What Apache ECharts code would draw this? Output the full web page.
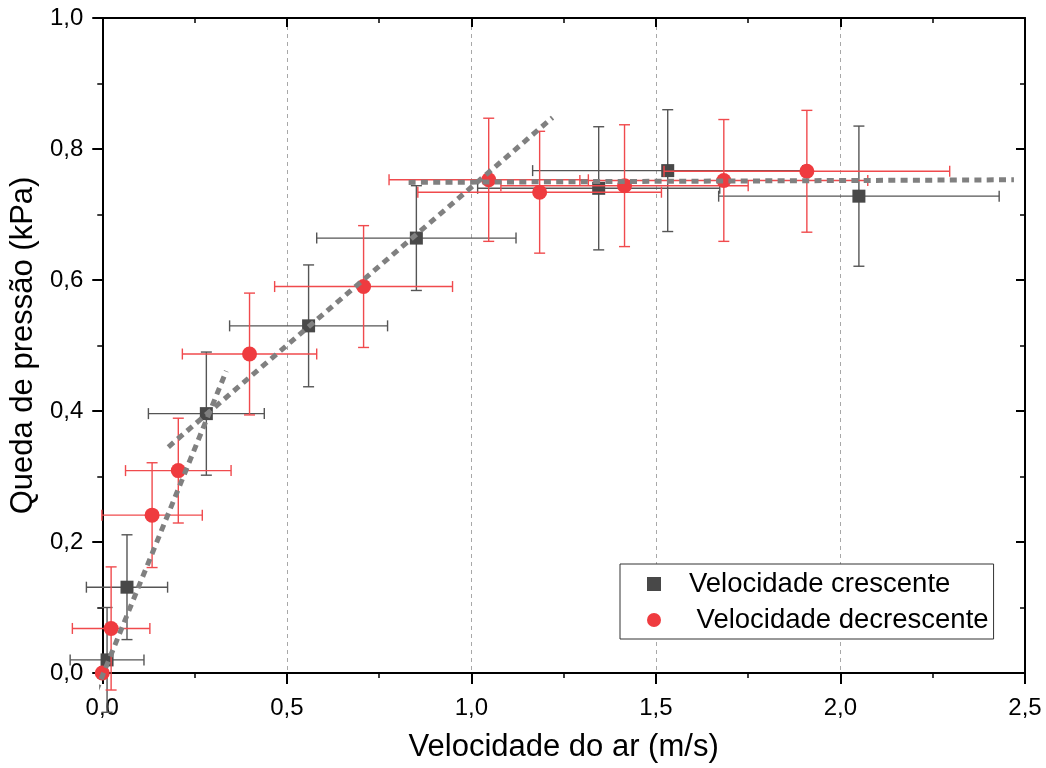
<!DOCTYPE html>
<html lang="pt-BR">
<head>
    <meta charset="utf-8">
    <title>Queda de pressão x velocidade do ar</title>
    <style>
        html, body { margin: 0; padding: 0; background: #fff; }
        #main { width: 1046px; height: 768px; }
    </style>
</head>
<body>
    <div id="main"></div>
    <script src="https://cdn.jsdelivr.net/npm/echarts@6/dist/echarts.min.js"></script>
    <script>
        // velocidade crescente (quadrados)
        var cresX = [0.013, 0.067, 0.282, 0.559, 0.851, 1.345, 1.532, 2.05];
        var cresY = [0.02, 0.131, 0.396, 0.53, 0.664, 0.74, 0.767, 0.728];
        var cresErrX = [0.1, 0.11, 0.157, 0.214, 0.27, 0.328, 0.366, 0.38];
        var cresErrY = [0.08, 0.08, 0.094, 0.093, 0.08, 0.094, 0.093, 0.107];

        // velocidade decrescente (circulos)
        var decrX = [0, 0.024, 0.135, 0.206, 0.399, 0.708, 1.047, 1.185, 1.415, 1.684, 1.909];
        var decrY = [0, 0.068, 0.241, 0.309, 0.487, 0.59, 0.753, 0.734, 0.744, 0.752, 0.766];
        var decrErrX = [0, 0.105, 0.136, 0.143, 0.182, 0.241, 0.27, 0.33, 0.335, 0.39, 0.387];
        var decrErrY = [0, 0.094, 0.08, 0.08, 0.093, 0.093, 0.094, 0.093, 0.093, 0.093, 0.093];

        // retas de ajuste (pontos extremos)
        var fitA = [[-0.016, -0.027], [0.336, 0.461]];
        var fitB = [[0.179, 0.345], [1.22, 0.848]];
        var fitC = [[0.83, 0.749], [2.47, 0.753]];

        var seriesNames = ['Velocidade crescente', 'Velocidade decrescente'];
        var legendPrefix = ['   ', '    '];

        var FONT = 'Liberation Sans, Arial, sans-serif';
        var BLACK = '#484848', RED = '#ef3b3f';

        function comma(v) { return v.toFixed(1).replace('.', ','); }

        function pack(xs, ys, ex, ey) {
            var out = [];
            for (var i = 0; i < xs.length; i++) out.push([xs[i], ys[i], ex[i], ey[i]]);
            return out;
        }

        function errRender(color) {
            return function (params, api) {
                var x = api.value(0), y = api.value(1), ex = api.value(2), ey = api.value(3);
                var cap = 5.5;
                var style = { stroke: color, lineWidth: 1.4 };
                var kids = [];
                if (ey > 0) {
                    var top = api.coord([x, y + ey]), bot = api.coord([x, y - ey]);
                    kids.push({ type: 'line', shape: { x1: top[0], y1: top[1], x2: bot[0], y2: bot[1] }, style: style });
                    kids.push({ type: 'line', shape: { x1: top[0] - cap, y1: top[1], x2: top[0] + cap, y2: top[1] }, style: style });
                    kids.push({ type: 'line', shape: { x1: bot[0] - cap, y1: bot[1], x2: bot[0] + cap, y2: bot[1] }, style: style });
                }
                if (ex > 0) {
                    var l = api.coord([x - ex, y]), r = api.coord([x + ex, y]);
                    kids.push({ type: 'line', shape: { x1: l[0], y1: l[1], x2: r[0], y2: r[1] }, style: style });
                    kids.push({ type: 'line', shape: { x1: l[0], y1: l[1] - cap, x2: l[0], y2: l[1] + cap }, style: style });
                    kids.push({ type: 'line', shape: { x1: r[0], y1: r[1] - cap, x2: r[0], y2: r[1] + cap }, style: style });
                }
                return { type: 'group', children: kids };
            };
        }

        function fitLine(pts) {
            return {
                type: 'line', data: pts, symbol: 'none', clip: false, silent: true, z: 10,
                lineStyle: { color: '#808080', width: 5, type: [7, 5.3], cap: 'butt' }
            };
        }

        var chart = echarts.init(document.getElementById('main'), null, { renderer: 'canvas' });

        var axisLine = { show: true, onZero: false, lineStyle: { color: '#000', width: 2 } };

        var option = {
            animation: false,
            backgroundColor: '#fff',
            textStyle: { fontFamily: FONT },
            grid: { left: 101, right: 21, top: 18, bottom: 93 },
            legend: {
                data: seriesNames,
                orient: 'vertical',
                left: 620, top: 564,
                padding: [6, 5, 5, 27],
                itemGap: 8,
                itemWidth: 14, itemHeight: 14,
                borderColor: '#333', borderWidth: 1,
                backgroundColor: '#fff',
                textStyle: { fontSize: 27.5, color: '#000', fontFamily: FONT, lineHeight: 27 },
                formatter: function (name) { return legendPrefix[seriesNames.indexOf(name)] + name; }
            },
            xAxis: [{
                type: 'value', position: 'bottom', min: 0, max: 2.5, interval: 0.5,
                axisLine: axisLine,
                axisTick: { show: true, inside: false, length: 11, lineStyle: { color: '#000', width: 2 } },
                minorTick: { show: true, splitNumber: 2, length: 5, lineStyle: { color: '#000', width: 1.5 } },
                splitLine: { show: true, lineStyle: { color: '#a8a8a8', width: 1, type: [4, 4] } },
                axisLabel: { fontSize: 24, color: '#000', margin: 23, formatter: comma },
                name: 'Velocidade do ar (m/s)', nameLocation: 'middle', nameGap: 59,
                nameTextStyle: { fontSize: 31, color: '#000' }
            }, {
                type: 'value', position: 'top', min: 0, max: 2.5, interval: 0.5,
                axisLine: axisLine,
                axisTick: { show: true, inside: true, length: 9, lineStyle: { color: '#000', width: 2 } },
                minorTick: { show: true, splitNumber: 2, length: 5, lineStyle: { color: '#000', width: 1.5 } },
                splitLine: { show: false }, axisLabel: { show: false }
            }],
            yAxis: [{
                type: 'value', position: 'left', min: 0, max: 1, interval: 0.2,
                axisLine: axisLine,
                axisTick: { show: true, inside: false, length: 10, lineStyle: { color: '#000', width: 2 } },
                minorTick: { show: true, splitNumber: 2, length: 5, lineStyle: { color: '#000', width: 1.5 } },
                splitLine: { show: false },
                axisLabel: { fontSize: 24, color: '#000', margin: 19, formatter: comma },
                name: 'Queda de pressão (kPa)', nameLocation: 'middle', nameGap: 56, nameRotate: 90,
                nameTextStyle: { fontSize: 31, color: '#000' }
            }, {
                type: 'value', position: 'right', min: 0, max: 1, interval: 0.2,
                axisLine: axisLine,
                axisTick: { show: true, inside: true, length: 9, lineStyle: { color: '#000', width: 2 } },
                minorTick: { show: true, splitNumber: 2, length: 5, lineStyle: { color: '#000', width: 1.5 } },
                splitLine: { show: false }, axisLabel: { show: false }
            }],
            series: [
                {
                    type: 'custom', name: 'errCres', renderItem: errRender('#555555'),
                    data: pack(cresX, cresY, cresErrX, cresErrY), encode: { x: 0, y: 1 },
                    clip: false, silent: true, z: 2
                },
                {
                    type: 'scatter', name: seriesNames[0], symbol: 'rect', symbolSize: 13,
                    itemStyle: { color: BLACK, opacity: 1 },
                    data: cresX.map(function (x, i) { return [x, cresY[i]]; }),
                    clip: false, z: 3
                },
                {
                    type: 'custom', name: 'errDecr', renderItem: errRender('#f04a4d'),
                    data: pack(decrX, decrY, decrErrX, decrErrY), encode: { x: 0, y: 1 },
                    clip: false, silent: true, z: 4
                },
                {
                    type: 'scatter', name: seriesNames[1], symbol: 'circle', symbolSize: 15,
                    itemStyle: { color: RED, opacity: 1 },
                    data: decrX.map(function (x, i) { return [x, decrY[i]]; }),
                    clip: false, z: 5
                },
                fitLine(fitA),
                fitLine(fitB),
                fitLine(fitC)
            ]
        };

        chart.setOption(option);
    </script>
</body>
</html>
